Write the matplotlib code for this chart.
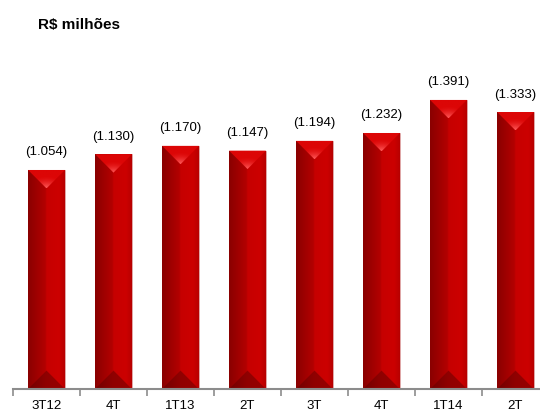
import numpy as np
import matplotlib
matplotlib.use("Agg")
import matplotlib.pyplot as plt
from matplotlib.patches import Polygon

categories = ["3T12", "4T", "1T13", "2T", "3T", "4T", "1T14", "2T"]
values = [1054, 1130, 1170, 1147, 1194, 1232, 1391, 1333]
labels = ["(1.054)", "(1.130)", "(1.170)", "(1.147)", "(1.194)", "(1.232)", "(1.391)", "(1.333)"]

plt.rcParams['font.family'] = ['Liberation Sans', 'DejaVu Sans']

fig = plt.figure(figsize=(5.4, 4.1), dpi=100)
ax = fig.add_axes([13/540, 20/410, 536/540, 311.7/410])
ax.set_xlim(-0.5, 7.5)
ax.set_ylim(0, 1500)

bw = 0.55
x = np.arange(len(values))
bars = ax.bar(x, values, width=bw, color='#c00000', edgecolor='#e0b0b0', linewidth=0.6, zorder=2)

px_per_x = 536 / 8.0
px_per_y = 311.7 / 1500
d = (bw / 2) * px_per_x / px_per_y


def hex2rgb(h):
    return np.array(matplotlib.colors.to_rgb(h))


def hgrad(stops, n=60):
    t = np.linspace(0, 1, n)
    img = np.zeros((1, n, 3))
    for c in range(3):
        img[0, :, c] = np.interp(t, [s[0] for s in stops], [hex2rgb(s[1])[c] for s in stops])
    return img


body = hgrad([(0.0, '#8a0000'), (0.48, '#b40000'), (0.5, '#c60000'), (0.85, '#cc0000'), (1.0, '#b80000')])
bimg = hgrad([(0.0, '#720000'), (0.5, '#900000'), (1.0, '#980000')])

for b, v in zip(bars, values):
    x0 = b.get_x(); x1 = x0 + b.get_width(); xc = (x0 + x1) / 2
    im = ax.imshow(body, extent=(x0, x1, 0, v), aspect='auto', zorder=3, interpolation='bilinear')
    im.set_clip_path(b)
    tri_top = Polygon([(x0, v), (x1, v), (xc, v - d)], closed=True, facecolor='none', edgecolor='none', zorder=4)
    ax.add_patch(tri_top)
    ny, nxx = 40, 40
    yy, xx = np.mgrid[0:1:ny*1j, 0:1:nxx*1j]
    dist = np.sqrt(((xx - 0.5) * 1.3) ** 2 + (yy * 1.1) ** 2)
    w = np.clip(1 - dist / 0.7, 0, 1) ** 1.6
    base = hex2rgb('#dc0606'); hi = hex2rgb('#ff5a5a')
    img = base[None, None, :] * (1 - w[..., None]) + hi[None, None, :] * w[..., None]
    im2 = ax.imshow(img, extent=(x0, x1, v - d, v), origin='lower', aspect='auto', zorder=4, interpolation='bilinear')
    im2.set_clip_path(tri_top)
    tri_bot = Polygon([(x0, 0), (x1, 0), (xc, d)], closed=True, facecolor='none', edgecolor='none', zorder=4)
    ax.add_patch(tri_bot)
    im3 = ax.imshow(bimg, extent=(x0, x1, 0, d), aspect='auto', zorder=4, interpolation='bilinear')
    im3.set_clip_path(tri_bot)

for xi, v, lab in zip(x, values, labels):
    ax.annotate(lab, (xi, v), xytext=(0, 9), textcoords='offset points',
                ha='center', va='bottom', fontsize=9.5, color='#000000')

for s in ['top', 'right', 'left']:
    ax.spines[s].set_visible(False)
ax.spines['bottom'].set_color('#8c8c8c')
ax.spines['bottom'].set_linewidth(1.5)
ax.spines['bottom'].set_zorder(5)
ax.set_yticks([])
ax.set_xticks(x)
ax.set_xticklabels(categories, fontsize=9.5)
ax.tick_params(axis='x', which='major', length=0, pad=7)
ax.set_xticks(np.arange(-0.5, 8.0, 1.0), minor=True)
ax.tick_params(axis='x', which='minor', length=5, width=1.2, color='#8c8c8c', direction='out')

fig.text(38/540, 1 - 25/410, "R$ milhões", fontsize=11, fontweight='bold', va='center', ha='left')

fig.savefig("out.png", dpi=100)
